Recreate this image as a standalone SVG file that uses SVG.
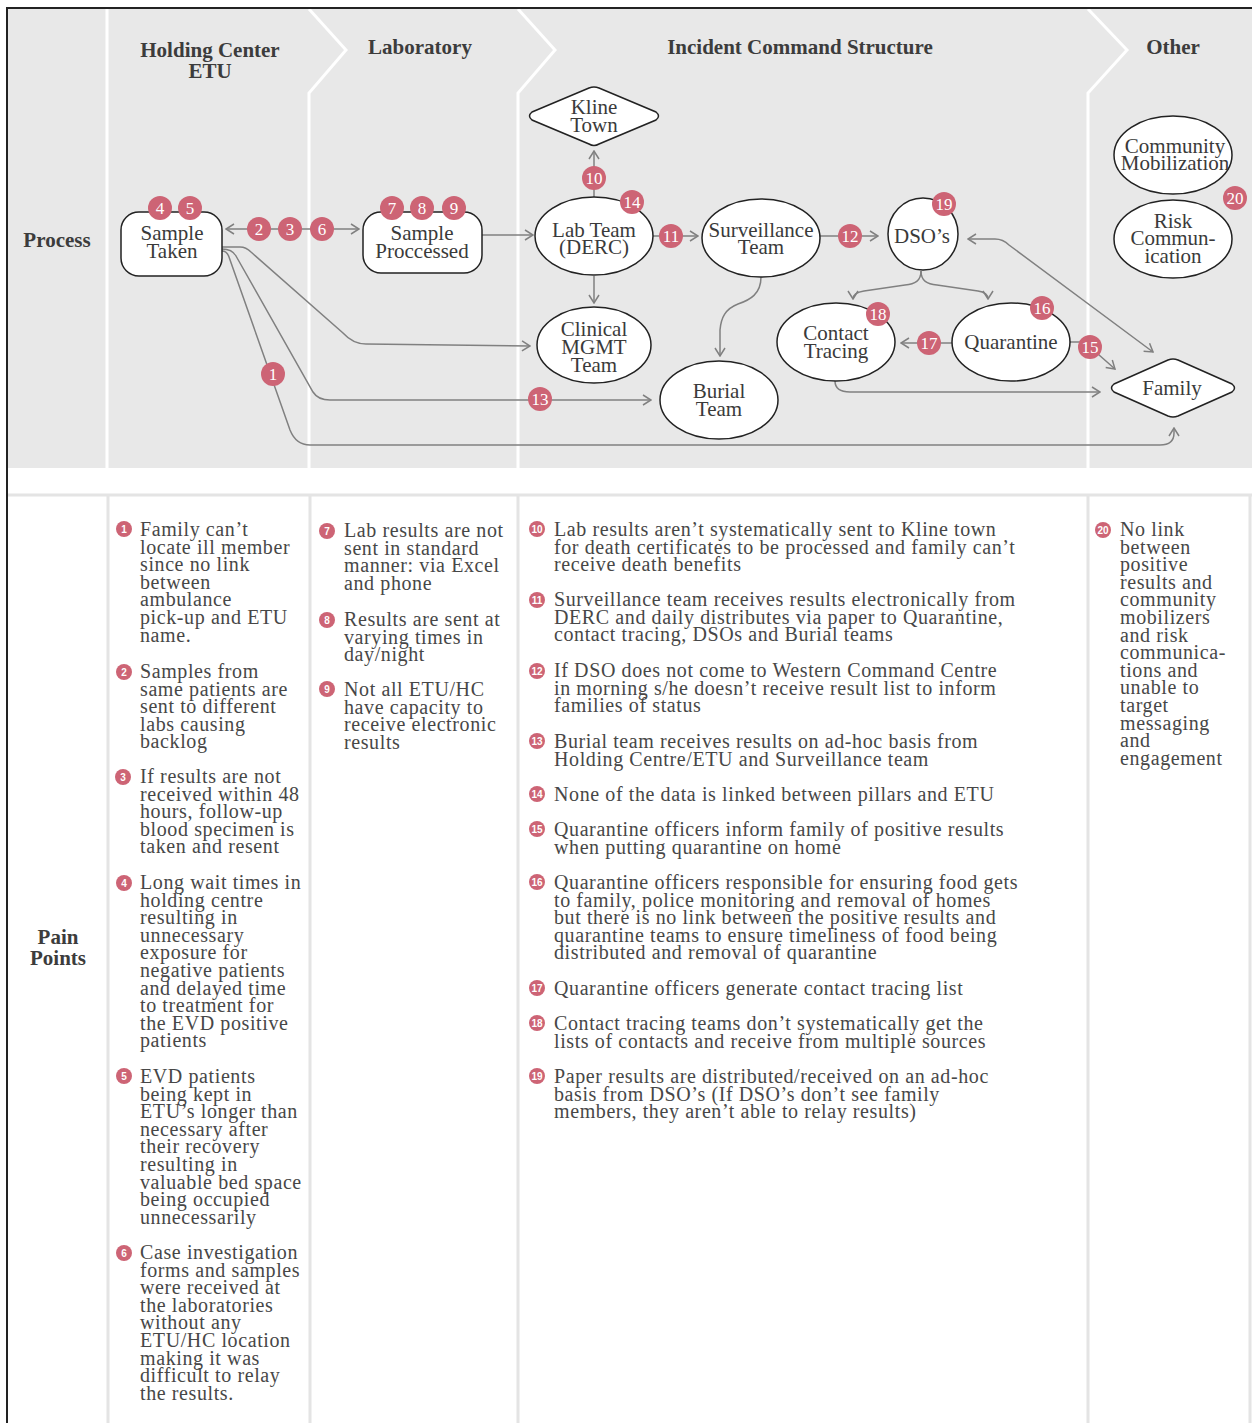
<svg xmlns="http://www.w3.org/2000/svg" width="1252" height="1423" viewBox="0 0 1252 1423">
<defs>
<style>
.hdr{font-family:"Liberation Serif",serif;font-weight:bold;font-size:21px;fill:#3c3c3c;text-anchor:middle}
.node{fill:#fff;stroke:#222;stroke-width:1.5}
.lbl{font-family:"Liberation Serif",serif;font-size:21px;fill:#3a3a3a;text-anchor:middle}
.con{fill:none;stroke:#808080;stroke-width:1.5}
.bdg{fill:#cd6475}
.bt{font-family:"Liberation Serif",serif;font-size:17px;fill:#fff;text-anchor:middle}
.pt{font-family:"Liberation Serif",serif;font-size:20px;fill:#474747;letter-spacing:0.6px}
.sb{fill:#cd6475}
.sbt{font-family:"Liberation Sans",sans-serif;font-weight:bold;font-size:10px;fill:#fff;text-anchor:middle}
.sep{stroke:#fff;stroke-width:3;fill:none}
.gl{stroke:#e4e4e4;stroke-width:3;fill:none}
</style>
<marker id="arr" viewBox="0 0 10 12" refX="9" refY="6" markerWidth="10" markerHeight="12" markerUnits="userSpaceOnUse" orient="auto-start-reverse">
<path d="M1,1 L9,6 L1,11" fill="none" stroke="#808080" stroke-width="1.5"/>
</marker>
</defs>
<rect x="0" y="0" width="1252" height="1423" fill="#fff"/>
<!-- top section -->
<g id="lanes">
<rect x="8" y="9" width="1244" height="459" fill="#e8e8e8"/>
<line class="sep" x1="107" y1="9" x2="107" y2="468"/>
<polyline class="sep" points="309,9 346,50 309,93 309,468"/>
<polyline class="sep" points="518,9 555,50 518,93 518,468"/>
<polyline class="sep" points="1088,9 1127,50 1088,93 1088,468"/>
<text class="hdr" x="210" y="57">Holding Center</text>
<text class="hdr" x="210" y="78">ETU</text>
<text class="hdr" x="420" y="54">Laboratory</text>
<text class="hdr" x="800" y="54">Incident Command Structure</text>
<text class="hdr" x="1173" y="54">Other</text>
<text class="hdr" x="57" y="247">Process</text>
</g>
<!-- bottom grid -->
<g id="grid">
<line class="gl" x1="8" y1="495" x2="1252" y2="495"/>
<line class="gl" x1="108" y1="495" x2="108" y2="1423"/>
<line class="gl" x1="310" y1="495" x2="310" y2="1423"/>
<line class="gl" x1="518" y1="495" x2="518" y2="1423"/>
<line class="gl" x1="1088" y1="495" x2="1088" y2="1423"/>
<line class="gl" x1="1250" y1="495" x2="1250" y2="1423"/>
<text class="hdr" x="58" y="944">Pain</text>
<text class="hdr" x="58" y="965">Points</text>
</g>
<!-- frame -->
<line x1="7" y1="8" x2="1252" y2="8" stroke="#222" stroke-width="2"/>
<line x1="7" y1="7" x2="7" y2="1423" stroke="#222" stroke-width="2"/>
<!-- connectors -->
<g id="connectors">
<line class="con" x1="226" y1="229" x2="359" y2="229" marker-start="url(#arr)" marker-end="url(#arr)"/>
<line class="con" x1="482" y1="235" x2="533" y2="235" marker-end="url(#arr)"/>
<line class="con" x1="594" y1="197" x2="594" y2="151" marker-end="url(#arr)"/>
<line class="con" x1="653" y1="236" x2="698" y2="236" marker-end="url(#arr)"/>
<line class="con" x1="820" y1="236" x2="878" y2="236" marker-end="url(#arr)"/>
<line class="con" x1="594" y1="276" x2="594" y2="303" marker-end="url(#arr)"/>
<path class="con" d="M761,277 C761,294 750,300 738,304 C725,309 721,318 720,330 L720,356" marker-end="url(#arr)"/>
<path class="con" d="M921,271 C921,281 915,284 905,285 L864,291 C857,292 853,295 853,299" marker-end="url(#arr)"/>
<path class="con" d="M921,271 C921,281 927,284 937,285 L978,291 C985,292 988,295 988,299" marker-end="url(#arr)"/>
<line class="con" x1="952" y1="343" x2="901" y2="343" marker-end="url(#arr)"/>
<path class="con" d="M1070,342 L1079,342 Q1085,342 1090,347 L1115,369" marker-end="url(#arr)"/>
<path class="con" d="M835,381 C835,389 840,392 850,392 L1100,392" marker-end="url(#arr)"/>
<path class="con" d="M968,239 L995,239 Q1003,239 1009,245 L1153,352" marker-start="url(#arr)" marker-end="url(#arr)"/>
<path class="con" d="M222,247 L240,247 Q246,247 251,252 L343,333 Q353,344 366,344 L530,346" marker-end="url(#arr)"/>
<path class="con" d="M222,249 Q232,249 236,256 L313,392 Q318,400 330,400 L651,400" marker-end="url(#arr)"/>
<path class="con" d="M222,251 Q227,251 229,257 L290,430 Q296,445 310,445 L1160,445 Q1174,445 1174,433 L1174,428" marker-end="url(#arr)"/>
</g>
<!-- nodes -->
<g id="n-sample-taken">
<rect class="node" x="121" y="212" width="101" height="64" rx="18"/>
<text class="lbl" x="172" y="240">Sample</text>
<text class="lbl" x="172" y="258">Taken</text>
</g>
<g id="n-sample-processed">
<rect class="node" x="363" y="212" width="119" height="61" rx="18"/>
<text class="lbl" x="422" y="240">Sample</text>
<text class="lbl" x="422" y="258">Proccessed</text>
</g>
<g id="n-lab-team">
<ellipse class="node" cx="594" cy="236" rx="59" ry="39"/>
<text class="lbl" x="594" y="237">Lab Team</text>
<text class="lbl" x="594" y="254">(DERC)</text>
</g>
<g id="n-kline-town">
<path class="node" d="M532,112 L589,88 Q594,86 599,88 L656,112 Q661,116 656,120 L599,144 Q594,147 589,144 L532,120 Q527,116 532,112 Z"/>
<text class="lbl" x="594" y="114">Kline</text>
<text class="lbl" x="594" y="132">Town</text>
</g>
<g id="n-surveillance">
<ellipse class="node" cx="761" cy="238" rx="59" ry="39"/>
<text class="lbl" x="761" y="237">Surveillance</text>
<text class="lbl" x="761" y="254">Team</text>
</g>
<g id="n-dsos">
<ellipse class="node" cx="923" cy="234" rx="35" ry="36"/>
<text class="lbl" x="922" y="243">DSO’s</text>
</g>
<g id="n-clinical">
<ellipse class="node" cx="594" cy="345" rx="57" ry="38"/>
<text class="lbl" x="594" y="336">Clinical</text>
<text class="lbl" x="594" y="354">MGMT</text>
<text class="lbl" x="594" y="372">Team</text>
</g>
<g id="n-burial">
<ellipse class="node" cx="719" cy="400" rx="59" ry="39"/>
<text class="lbl" x="719" y="398">Burial</text>
<text class="lbl" x="719" y="416">Team</text>
</g>
<g id="n-contact-tracing">
<ellipse class="node" cx="836" cy="342" rx="59" ry="39"/>
<text class="lbl" x="836" y="340">Contact</text>
<text class="lbl" x="836" y="358">Tracing</text>
</g>
<g id="n-quarantine">
<ellipse class="node" cx="1011" cy="342" rx="59" ry="39"/>
<text class="lbl" x="1011" y="349">Quarantine</text>
</g>
<g id="n-family">
<path class="node" d="M1114,384 L1168,360 Q1173,358 1178,360 L1232,384 Q1237,388 1232,392 L1178,416 Q1173,418 1168,416 L1114,392 Q1109,388 1114,384 Z"/>
<text class="lbl" x="1172" y="395">Family</text>
</g>
<g id="n-community">
<ellipse class="node" cx="1173" cy="155" rx="59" ry="39"/>
<text class="lbl" x="1175" y="153">Community</text>
<text class="lbl" x="1175" y="170">Mobilization</text>
</g>
<g id="n-risk">
<ellipse class="node" cx="1173" cy="239" rx="59" ry="39"/>
<text class="lbl" x="1173" y="228">Risk</text>
<text class="lbl" x="1173" y="245">Commun-</text>
<text class="lbl" x="1173" y="263">ication</text>
</g>
<!-- process badges -->
<g id="badges">
<circle class="bdg" cx="160" cy="208" r="12"/><text class="bt" x="160" y="214">4</text>
<circle class="bdg" cx="190" cy="208" r="12"/><text class="bt" x="190" y="214">5</text>
<circle class="bdg" cx="392" cy="208" r="12"/><text class="bt" x="392" y="214">7</text>
<circle class="bdg" cx="422" cy="208" r="12"/><text class="bt" x="422" y="214">8</text>
<circle class="bdg" cx="454" cy="208" r="12"/><text class="bt" x="454" y="214">9</text>
<circle class="bdg" cx="259" cy="229" r="12"/><text class="bt" x="259" y="235">2</text>
<circle class="bdg" cx="290" cy="229" r="12"/><text class="bt" x="290" y="235">3</text>
<circle class="bdg" cx="322" cy="229" r="12"/><text class="bt" x="322" y="235">6</text>
<circle class="bdg" cx="594" cy="178" r="12"/><text class="bt" x="594" y="184">10</text>
<circle class="bdg" cx="632" cy="202" r="12"/><text class="bt" x="632" y="208">14</text>
<circle class="bdg" cx="671" cy="236" r="12"/><text class="bt" x="671" y="242">11</text>
<circle class="bdg" cx="850" cy="236" r="12"/><text class="bt" x="850" y="242">12</text>
<circle class="bdg" cx="944" cy="204" r="12"/><text class="bt" x="944" y="210">19</text>
<circle class="bdg" cx="878" cy="314" r="12"/><text class="bt" x="878" y="320">18</text>
<circle class="bdg" cx="1042" cy="308" r="12"/><text class="bt" x="1042" y="314">16</text>
<circle class="bdg" cx="929" cy="343" r="12"/><text class="bt" x="929" y="349">17</text>
<circle class="bdg" cx="1090" cy="347" r="12"/><text class="bt" x="1090" y="353">15</text>
<circle class="bdg" cx="540" cy="399" r="12"/><text class="bt" x="540" y="405">13</text>
<circle class="bdg" cx="273" cy="374" r="12"/><text class="bt" x="273" y="380">1</text>
<circle class="bdg" cx="1235" cy="198" r="12"/><text class="bt" x="1235" y="204">20</text>
</g>
<!-- pain points -->
<g id="pain-holding">
<circle class="sb" cx="124" cy="529" r="8"/><text class="sbt" x="124" y="533">1</text>
<text class="pt" y="536"><tspan x="140">Family  can’t</tspan><tspan x="140" dy="17.6">locate ill member</tspan><tspan x="140" dy="17.6">since no link</tspan><tspan x="140" dy="17.6">between</tspan><tspan x="140" dy="17.6">ambulance</tspan><tspan x="140" dy="17.6">pick-up and ETU</tspan><tspan x="140" dy="17.6">name.</tspan></text>
<circle class="sb" cx="124" cy="672" r="8"/><text class="sbt" x="124" y="676">2</text>
<text class="pt" y="678"><tspan x="140">Samples from</tspan><tspan x="140" dy="17.6">same patients are</tspan><tspan x="140" dy="17.6">sent to different</tspan><tspan x="140" dy="17.6">labs causing</tspan><tspan x="140" dy="17.6">backlog</tspan></text>
<circle class="sb" cx="123" cy="777" r="8"/><text class="sbt" x="123" y="781">3</text>
<text class="pt" y="783"><tspan x="140">If results are not</tspan><tspan x="140" dy="17.6">received within 48</tspan><tspan x="140" dy="17.6">hours, follow-up</tspan><tspan x="140" dy="17.6">blood specimen is</tspan><tspan x="140" dy="17.6">taken and resent</tspan></text>
<circle class="sb" cx="124" cy="883" r="8"/><text class="sbt" x="124" y="887">4</text>
<text class="pt" y="889"><tspan x="140">Long wait times in</tspan><tspan x="140" dy="17.6">holding centre</tspan><tspan x="140" dy="17.6">resulting in</tspan><tspan x="140" dy="17.6">unnecessary</tspan><tspan x="140" dy="17.6">exposure for</tspan><tspan x="140" dy="17.6">negative patients</tspan><tspan x="140" dy="17.6">and delayed time</tspan><tspan x="140" dy="17.6">to treatment for</tspan><tspan x="140" dy="17.6">the EVD positive</tspan><tspan x="140" dy="17.6">patients</tspan></text>
<circle class="sb" cx="124" cy="1076" r="8"/><text class="sbt" x="124" y="1080">5</text>
<text class="pt" y="1083"><tspan x="140">EVD patients</tspan><tspan x="140" dy="17.6">being kept in</tspan><tspan x="140" dy="17.6">ETU’s longer than</tspan><tspan x="140" dy="17.6">necessary after</tspan><tspan x="140" dy="17.6">their recovery</tspan><tspan x="140" dy="17.6">resulting in</tspan><tspan x="140" dy="17.6">valuable bed space</tspan><tspan x="140" dy="17.6">being occupied</tspan><tspan x="140" dy="17.6">unnecessarily</tspan></text>
<circle class="sb" cx="124" cy="1253" r="8"/><text class="sbt" x="124" y="1257">6</text>
<text class="pt" y="1259"><tspan x="140">Case investigation</tspan><tspan x="140" dy="17.6">forms and samples</tspan><tspan x="140" dy="17.6">were received at</tspan><tspan x="140" dy="17.6">the laboratories</tspan><tspan x="140" dy="17.6">without any</tspan><tspan x="140" dy="17.6">ETU/HC location</tspan><tspan x="140" dy="17.6">making it was</tspan><tspan x="140" dy="17.6">difficult to relay</tspan><tspan x="140" dy="17.6">the results.</tspan></text>
</g>
<g id="pain-lab">
<circle class="sb" cx="327" cy="531" r="8"/><text class="sbt" x="327" y="535">7</text>
<text class="pt" y="537"><tspan x="344">Lab results are not</tspan><tspan x="344" dy="17.6">sent in standard</tspan><tspan x="344" dy="17.6">manner:  via Excel</tspan><tspan x="344" dy="17.6">and phone</tspan></text>
<circle class="sb" cx="327" cy="620" r="8"/><text class="sbt" x="327" y="624">8</text>
<text class="pt" y="626"><tspan x="344">Results are sent at</tspan><tspan x="344" dy="17.6">varying times in</tspan><tspan x="344" dy="17.6">day/night</tspan></text>
<circle class="sb" cx="327" cy="689" r="8"/><text class="sbt" x="327" y="693">9</text>
<text class="pt" y="696"><tspan x="344">Not all ETU/HC</tspan><tspan x="344" dy="17.6">have capacity to</tspan><tspan x="344" dy="17.6">receive electronic</tspan><tspan x="344" dy="17.6">results</tspan></text>
</g>
<g id="pain-ics">
<circle class="sb" cx="537" cy="529" r="8"/><text class="sbt" x="537" y="533">10</text>
<text class="pt" y="536"><tspan x="554">Lab results aren’t systematically sent to Kline town</tspan><tspan x="554" dy="17.6">for death certificates to be processed and family can’t</tspan><tspan x="554" dy="17.6">receive death benefits</tspan></text>
<circle class="sb" cx="537" cy="600" r="8"/><text class="sbt" x="537" y="604">11</text>
<text class="pt" y="606"><tspan x="554">Surveillance team receives results electronically from</tspan><tspan x="554" dy="17.6">DERC and daily distributes via paper to Quarantine,</tspan><tspan x="554" dy="17.6">contact tracing, DSOs and Burial teams</tspan></text>
<circle class="sb" cx="537" cy="671" r="8"/><text class="sbt" x="537" y="675">12</text>
<text class="pt" y="677"><tspan x="554">If DSO does not come to Western Command Centre</tspan><tspan x="554" dy="17.6">in morning s/he doesn’t receive result list to inform</tspan><tspan x="554" dy="17.6">families of status</tspan></text>
<circle class="sb" cx="537" cy="741" r="8"/><text class="sbt" x="537" y="745">13</text>
<text class="pt" y="748"><tspan x="554">Burial team receives results on ad-hoc basis from</tspan><tspan x="554" dy="17.6">Holding Centre/ETU and Surveillance team</tspan></text>
<circle class="sb" cx="537" cy="794" r="8"/><text class="sbt" x="537" y="798">14</text>
<text class="pt" x="554" y="801">None of the data is linked between pillars and ETU</text>
<circle class="sb" cx="537" cy="829" r="8"/><text class="sbt" x="537" y="833">15</text>
<text class="pt" y="836"><tspan x="554">Quarantine officers inform family of positive results</tspan><tspan x="554" dy="17.6">when putting quarantine on home</tspan></text>
<circle class="sb" cx="537" cy="882" r="8"/><text class="sbt" x="537" y="886">16</text>
<text class="pt" y="889"><tspan x="554">Quarantine officers responsible for ensuring food gets</tspan><tspan x="554" dy="17.6">to family, police monitoring  and removal of homes</tspan><tspan x="554" dy="17.6">but there is no link between the positive results and</tspan><tspan x="554" dy="17.6">quarantine teams to ensure timeliness of food being</tspan><tspan x="554" dy="17.6">distributed and removal of quarantine</tspan></text>
<circle class="sb" cx="537" cy="988" r="8"/><text class="sbt" x="537" y="992">17</text>
<text class="pt" x="554" y="995">Quarantine officers generate contact tracing list</text>
<circle class="sb" cx="537" cy="1023" r="8"/><text class="sbt" x="537" y="1027">18</text>
<text class="pt" y="1030"><tspan x="554">Contact tracing teams don’t systematically get the</tspan><tspan x="554" dy="17.6">lists of contacts and receive from multiple sources</tspan></text>
<circle class="sb" cx="537" cy="1076" r="8"/><text class="sbt" x="537" y="1080">19</text>
<text class="pt" y="1083"><tspan x="554">Paper results are distributed/received on an ad-hoc</tspan><tspan x="554" dy="17.6">basis from DSO’s (If DSO’s don’t see family</tspan><tspan x="554" dy="17.6">members, they aren’t able to relay results)</tspan></text>
</g>
<g id="pain-other">
<circle class="sb" cx="1103" cy="530" r="8"/><text class="sbt" x="1103" y="534">20</text>
<text class="pt" y="536"><tspan x="1120">No link</tspan><tspan x="1120" dy="17.6">between</tspan><tspan x="1120" dy="17.6">positive</tspan><tspan x="1120" dy="17.6">results and</tspan><tspan x="1120" dy="17.6">community</tspan><tspan x="1120" dy="17.6">mobilizers</tspan><tspan x="1120" dy="17.6">and risk</tspan><tspan x="1120" dy="17.6">communica-</tspan><tspan x="1120" dy="17.6">tions and</tspan><tspan x="1120" dy="17.6">unable to</tspan><tspan x="1120" dy="17.6">target</tspan><tspan x="1120" dy="17.6">messaging</tspan><tspan x="1120" dy="17.6">and</tspan><tspan x="1120" dy="17.6">engagement</tspan></text>
</g>
</svg>
